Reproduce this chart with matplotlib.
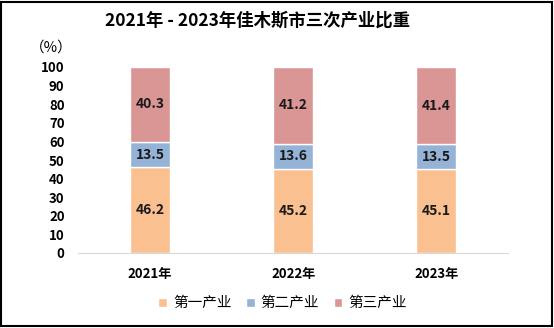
import numpy as np
import matplotlib.pyplot as plt
from matplotlib.patches import Rectangle

plt.rcParams['font.family'] = ['Noto Sans CJK SC', 'DejaVu Sans']

years = ['2021年', '2022年', '2023年']
primary = [46.2, 45.2, 45.1]    # 第一产业
secondary = [13.5, 13.6, 13.5]  # 第二产业
tertiary = [40.3, 41.2, 41.4]   # 第三产业
names = ['第一产业', '第二产业', '第三产业']
colors = ['#FAC090', '#95B3D7', '#D99694']

fig = plt.figure(figsize=(5.54, 3.28), dpi=100)
ax = fig.add_axes([78.5 / 554, 1 - 253 / 328, (508 - 78.5) / 554, (253 - 67) / 328])

x = np.arange(len(years))
bottom = np.zeros(len(years))
for vals, name, c in zip([primary, secondary, tertiary], names, colors):
    bars = ax.bar(x, vals, width=0.28, bottom=bottom, color=c, edgecolor='white',
                  linewidth=1, label=name, zorder=2)
    for b, v in zip(bars, vals):
        ax.text(b.get_x() + b.get_width() / 2, b.get_y() + v / 2, f'{v:.1f}',
                ha='center', va='center', fontsize=10, fontweight='bold', color='#1a1a1a')
    bottom += np.array(vals)

ax.set_xlim(-0.5, 2.5)
ax.set_ylim(0, 100)
ax.set_yticks(np.arange(0, 101, 10))
ax.set_xticks(x)
ax.set_xticklabels(years)
for s in ['top', 'right', 'left']:
    ax.spines[s].set_visible(False)
ax.spines['bottom'].set_color('#d9d9d9')
ax.tick_params(length=0, labelsize=9.5)
ax.tick_params(axis='x', pad=10)
ax.tick_params(axis='y', pad=10)
for lab in ax.get_xticklabels() + ax.get_yticklabels():
    lab.set_fontweight('bold')

fig.text(0.465, 0.937, '2021年 - 2023年佳木斯市三次产业比重', ha='center', va='center',
         fontsize=12.5, fontweight='bold')
fig.text(0.093, 0.855, '（%）', ha='center', va='center', fontsize=10.5)

fig.legend(loc='center', bbox_to_anchor=(0.51, 0.075), ncol=3, frameon=False,
           fontsize=10.5, handlelength=0.6, handleheight=0.6, handletextpad=0.4,
           columnspacing=1.0)

fig.patches.append(Rectangle((0.002, 0.005), 0.994, 0.99, transform=fig.transFigure,
                             fill=False, edgecolor='black', linewidth=1.5))

fig.savefig('out.png', dpi=100)
